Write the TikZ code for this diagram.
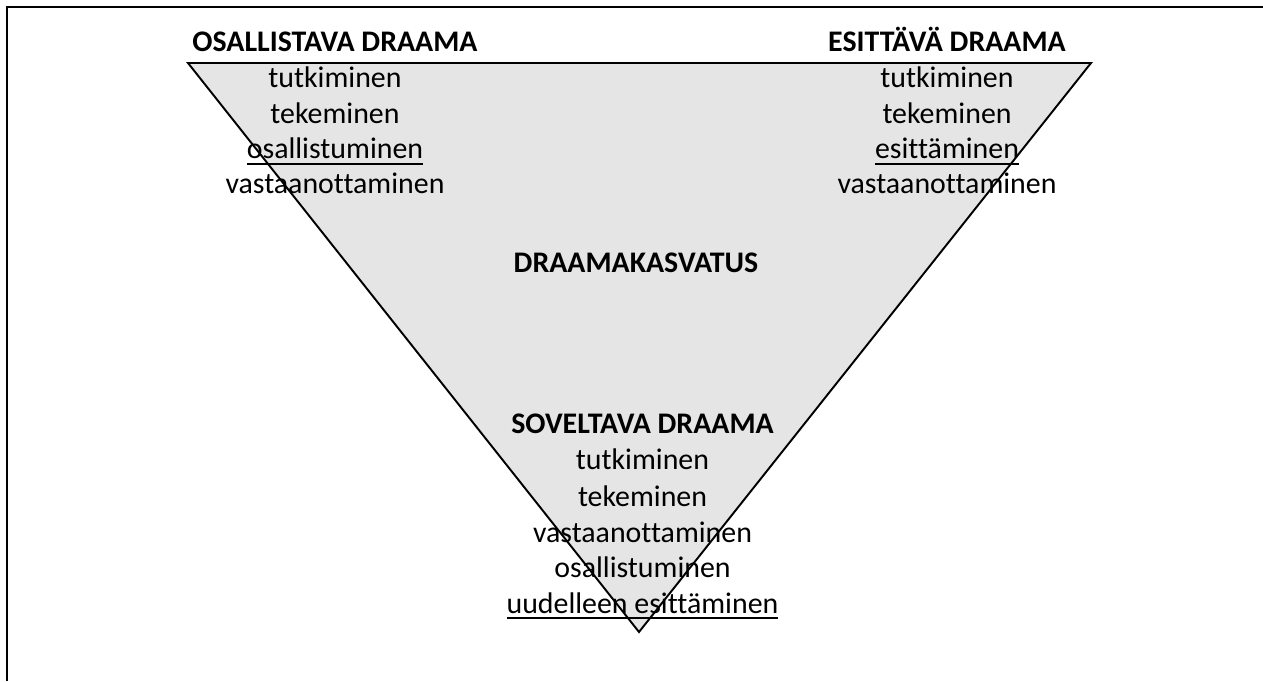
\documentclass[tikz,border=0pt]{standalone}
\usepackage{fontspec}
\setmainfont{Carlito}[Ligatures=NoCommon]
\usetikzlibrary{positioning}
\definecolor{wedge}{rgb}{0.9, 0.9, 0.9}
\newcommand{\undl}[1]{\setbox0\hbox{#1}\rlap{\rule[-0.12cm]{\wd0}{0.04cm}}\box0}

\begin{document}
\begin{tikzpicture}[line width=1.1pt,word/.style={anchor=base,inner sep=0pt,font=\fontsize{17pt}{20pt}\selectfont},head/.style={word,font=\fontsize{17pt}{20pt}\selectfont\bfseries}]
    \useasboundingbox (0,0) rectangle (25.26,13.62);
    % frame, only top and left edges show
    \draw (0.14,0) -- (0.14,13.48) -- (25.26,13.48);

    % the wedge
    \coordinate (tl) at (3.76,12.36);
    \coordinate (tr) at (21.82,12.36);
    \coordinate (bot) at (12.78,0.98);
    \draw[fill=wedge] (tl) -- (tr) -- (bot) -- cycle;

    % left corner
    \node (osh) at (6.70,12.58) [head] {OSALLISTAVA DRAAMA};
    \node (os1) at (6.70,11.86) [word] {tutkiminen};
    \node (os2) at (6.70,11.154) [word] {tekeminen};
    \node (os3) at (6.70,10.448) [word] {\undl{osallistuminen}};
    \node (os4) at (6.70,9.742) [word] {vastaanottaminen};

    % right corner
    \node (esh) at (18.94,12.58) [head] {ESITTÄVÄ DRAAMA};
    \node (es1) at (18.94,11.86) [word] {tutkiminen};
    \node (es2) at (18.94,11.154) [word] {tekeminen};
    \node (es3) at (18.94,10.448) [word] {\undl{esittäminen}};
    \node (es4) at (18.94,9.742) [word] {vastaanottaminen};

    \node (mid) at (12.72,8.16) [head] {DRAAMAKASVATUS};

    % bottom corner
    \node (soh) at (12.85,4.96) [head] {SOVELTAVA DRAAMA};
    \node (so1) at (12.85,4.22) [word] {tutkiminen};
    \node (so2) at (12.85,3.50) [word] {tekeminen};
    \node (so3) at (12.85,2.78) [word] {vastaanottaminen};
    \node (so4) at (12.85,2.08) [word] {osallistuminen};
    \node (so5) at (12.85,1.36) [word] {\undl{uudelleen esittäminen}};
\end{tikzpicture}
\end{document}
